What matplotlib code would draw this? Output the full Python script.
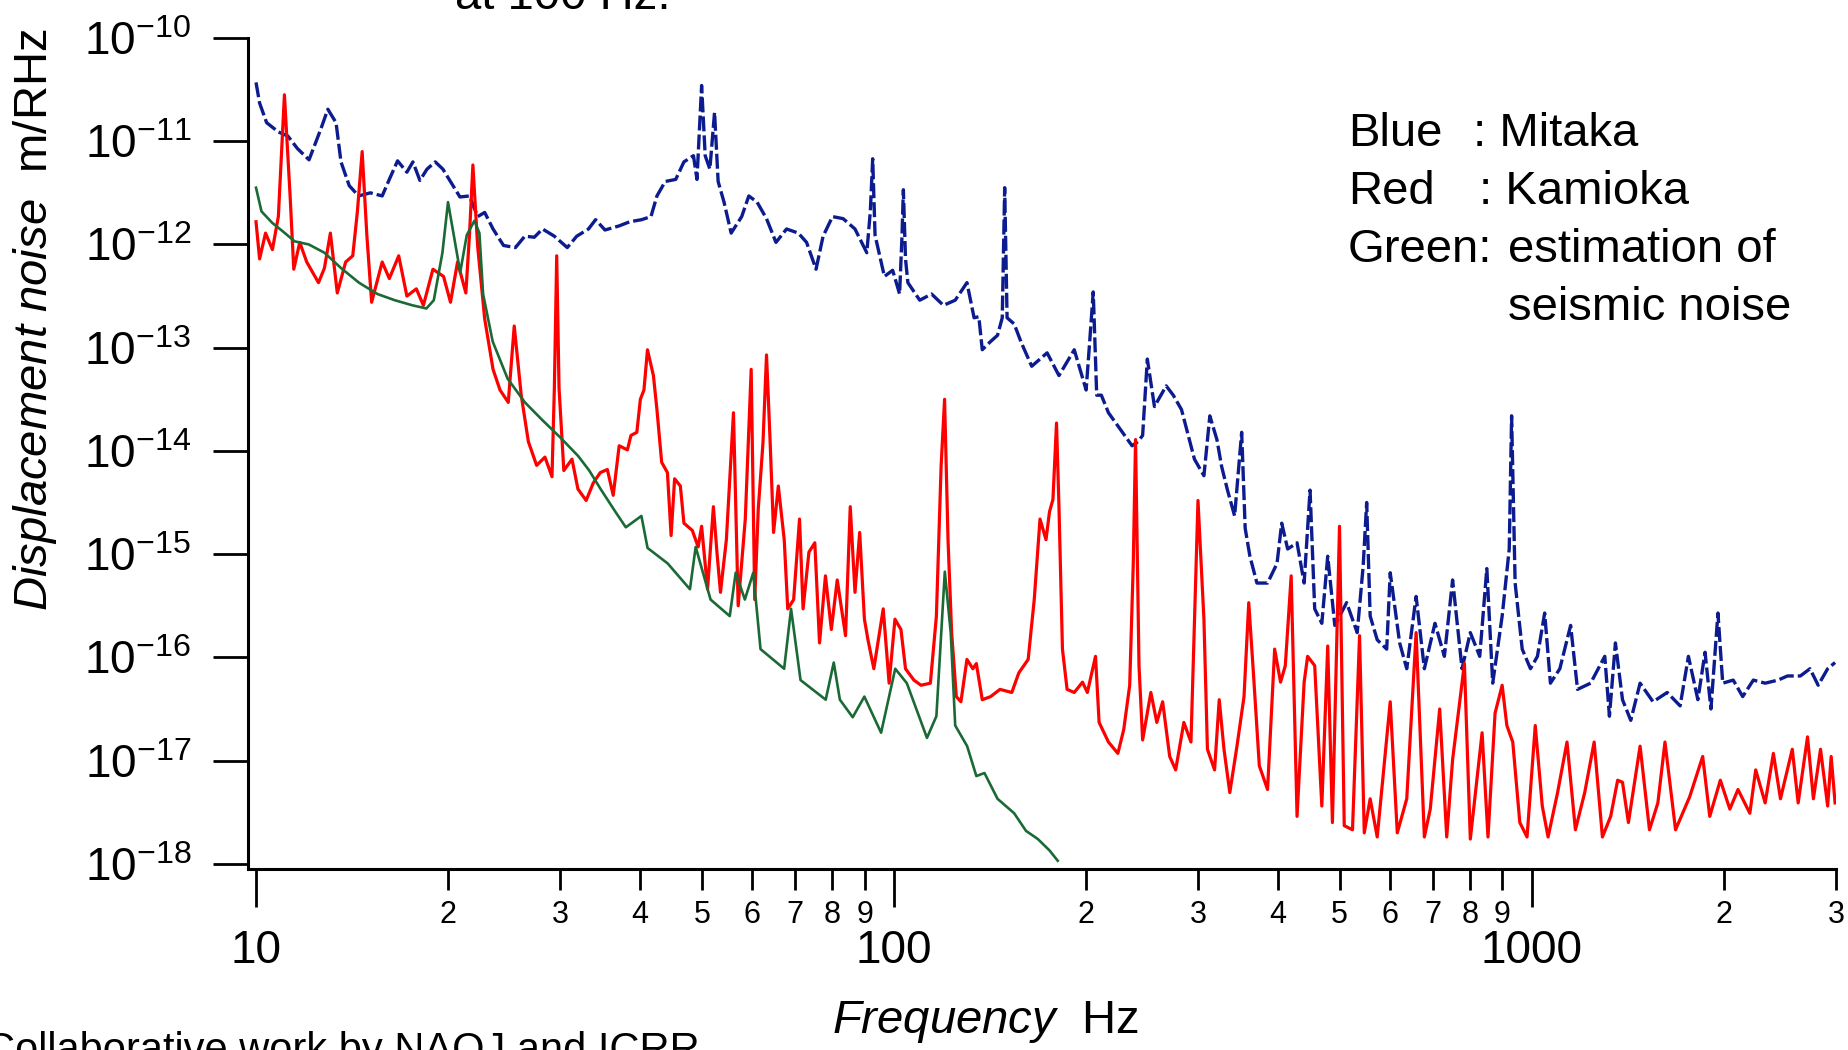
import numpy as np
import matplotlib
matplotlib.use("Agg")
import matplotlib.pyplot as plt
from matplotlib import font_manager
from matplotlib.ticker import FixedLocator, FuncFormatter, NullLocator

# ---- data (frequency in Hz, noise as log10 of m/rtHz) ----
# Mitaka (blue, dashed)
blue_freq = [10.0, 10.13, 10.39, 10.84, 11.22, 11.61, 12.11, 12.64, 12.96, 13.35,
             13.59, 14.0, 14.48, 15.11, 15.77, 16.18, 16.67, 17.24, 17.62, 18.07,
             18.54, 19.10, 19.63, 20.18, 20.88, 21.61, 22.26, 22.83, 23.53, 24.44,
             25.51, 26.39, 27.31, 28.13, 29.36, 30.76, 31.83, 33.21, 34.07, 35.25,
             37.10, 38.54, 40.22, 41.61, 42.52, 43.81, 45.50, 46.87, 48.51, 49.13,
             49.96, 50.61, 51.47, 52.35, 53.03, 54.17, 55.58, 57.74, 59.24, 61.04,
             63.15, 65.34, 67.89, 70.84, 72.98, 75.51, 77.46, 80.14, 83.27, 86.91,
             90.70, 91.86, 92.65, 93.44, 96.65, 99.57, 102.1, 103.0, 103.5, 104.3,
             105.2, 109.8, 114.6, 119.6, 124.8, 130.2, 133.6, 135.9, 137.6, 141.8,
             145.4, 147.9, 149.2, 150.5, 154.4, 158.4, 164.5, 173.9, 181.5, 191.8,
             200.2, 202.8, 205.4, 208.0, 211.5, 217.0, 226.4, 236.3, 241.4, 245.5,
             249.7, 256.2, 267.3, 274.2, 282.5, 296.0, 306.3, 312.9, 321.0, 326.5,
             333.5, 342.2, 351.0, 355.5, 361.6, 370.9, 385.4, 398.8, 405.6, 414.4,
             428.7, 439.8, 449.3, 456.9, 468.8, 478.9, 491.3, 512.7, 532.7, 544.2,
             551.2, 558.2, 572.6, 592.5, 600.1, 620.9, 637.0, 658.9, 678.8, 705.3,
             729.7, 751.7, 777.7, 801.3, 829.0, 850.5, 868.8, 898.9, 922.2, 930.1,
             942.0, 966.4, 995.7, 1021, 1048, 1070, 1107, 1151, 1180, 1237,
             1302, 1324, 1353, 1388, 1430, 1479, 1550, 1631, 1709, 1761,
             1822, 1870, 1910, 1959, 1993, 2070, 2142, 2226, 2323, 2434,
             2518, 2638, 2731, 2813, 2911, 2990]
blue_log10 = [-10.43, -10.63, -10.82, -10.91, -10.95, -11.07, -11.18, -10.88, -10.69, -10.82,
              -11.20, -11.43, -11.53, -11.50, -11.53, -11.37, -11.19, -11.30, -11.20, -11.38,
              -11.27, -11.20, -11.27, -11.39, -11.54, -11.53, -11.73, -11.69, -11.85, -12.01,
              -12.03, -11.92, -11.93, -11.85, -11.92, -12.03, -11.92, -11.85, -11.76, -11.86,
              -11.82, -11.78, -11.76, -11.73, -11.53, -11.39, -11.37, -11.20, -11.14, -11.37,
              -10.46, -11.14, -11.27, -10.72, -11.39, -11.59, -11.89, -11.73, -11.53, -11.59,
              -11.75, -11.98, -11.85, -11.89, -11.98, -12.24, -11.92, -11.73, -11.75, -11.85,
              -12.08, -11.68, -11.17, -11.91, -12.31, -12.25, -12.48, -11.91, -11.47, -12.14,
              -12.37, -12.54, -12.48, -12.59, -12.54, -12.37, -12.71, -12.70, -13.02, -12.94,
              -12.88, -12.71, -11.45, -12.71, -12.77, -12.95, -13.18, -13.05, -13.27, -13.02,
              -13.41, -12.94, -12.46, -13.46, -13.46, -13.63, -13.79, -13.95, -13.91, -13.85,
              -13.11, -13.57, -13.37, -13.46, -13.60, -14.08, -14.24, -13.66, -13.89, -14.15,
              -14.38, -14.63, -13.82, -14.75, -15.02, -15.28, -15.28, -15.09, -14.70, -14.95,
              -14.89, -15.28, -14.38, -15.53, -15.67, -15.02, -15.69, -15.47, -15.76, -15.12,
              -14.50, -15.60, -15.83, -15.92, -15.18, -15.86, -16.11, -15.41, -16.11, -15.67,
              -15.99, -15.25, -16.11, -15.76, -15.99, -15.14, -16.25, -15.60, -14.95, -13.66,
              -15.28, -15.92, -16.11, -15.99, -15.57, -16.25, -16.11, -15.69, -16.31, -16.25,
              -15.99, -16.57, -15.86, -16.41, -16.61, -16.25, -16.43, -16.34, -16.47, -15.99,
              -16.41, -15.95, -16.50, -15.57, -16.25, -16.22, -16.38, -16.22, -16.25, -16.22,
              -16.18, -16.18, -16.11, -16.27, -16.11, -16.05]

# Kamioka (red)
red_freq = [10.0, 10.13, 10.35, 10.61, 10.84, 11.08, 11.31, 11.46, 11.71, 12.01,
            12.27, 12.53, 12.80, 13.08, 13.41, 13.82, 14.18, 14.42, 14.67, 14.92,
            15.18, 15.77, 16.18, 16.74, 17.24, 17.84, 18.30, 18.94, 19.68, 20.18,
            20.70, 21.33, 21.61, 21.88, 22.26, 22.83, 23.53, 24.13, 24.86, 25.40,
            26.05, 26.73, 27.54, 28.38, 29.11, 29.36, 29.61, 29.86, 30.38, 31.29,
            31.97, 32.93, 33.79,
            34.65, 35.55, 36.31, 37.10, 38.22, 38.71, 39.54, 40.05, 40.57, 41.09,
            41.98, 42.52, 43.25, 44.16, 44.75, 45.32, 46.27, 46.87, 48.31, 49.34,
            49.96, 51.04, 52.13, 52.80, 53.48, 54.63, 56.05, 57.01, 58.49, 59.75,
            60.52, 61.30, 62.35, 63.15, 63.96, 64.78, 65.90, 67.32, 68.18, 69.65,
            71.14, 72.06, 73.60, 75.18, 76.47, 78.12, 79.80, 81.52, 84.00, 85.44,
            86.91, 88.40, 89.92, 91.08, 93.03, 94.23, 96.24, 98.31, 100.4, 102.6,
            104.3, 107.5, 110.3, 114.1, 116.6, 118.6, 120.1, 121.6, 123.2, 125.3,
            127.4, 130.2, 133.0, 134.7, 137.6, 141.8, 146.7, 153.1, 157.0, 162.4,
            166.0, 169.5, 173.2, 175.4, 177.6, 179.9, 181.5, 183.8, 186.9, 191.8,
            197.6, 201.1, 207.1, 209.8, 217.0, 224.5, 229.3, 234.3, 237.3, 239.3,
            242.3, 245.5, 252.9, 258.4, 263.9, 270.7, 276.6, 284.9, 292.3,
            299.8, 306.3, 310.2, 318.3, 323.7, 329.3, 336.3, 345.1, 354.0, 360.1,
            366.2, 374.1, 385.4, 395.4, 403.9, 410.9, 419.7, 428.7, 439.8, 445.4,
            456.9, 468.8, 478.9, 487.1, 499.7, 508.3, 523.7, 537.2, 546.4, 558.2,
            572.6, 600.1, 615.6, 637.0, 658.9, 678.8, 693.4, 717.4, 735.9, 751.7,
            784.4, 801.3, 836.1, 854.1, 876.2, 898.9, 914.3, 934.0, 958.1, 983.4,
            1013, 1039, 1061, 1098, 1136, 1171, 1211, 1253, 1291, 1330,
            1364, 1388, 1418, 1479, 1530, 1577, 1618, 1681, 1769, 1854,
            1902, 1976, 2045, 2106, 2198, 2245, 2323, 2393, 2455, 2562,
            2617, 2707, 2765, 2837, 2911, 2948, 2990]
red_log10 = [-11.78, -12.14, -11.89, -12.05, -11.73, -10.55, -11.53, -12.24, -11.98, -12.17,
             -12.27, -12.37, -12.23, -11.89, -12.47, -12.17, -12.11, -11.68, -11.10, -11.91,
             -12.56, -12.17, -12.33, -12.11, -12.50, -12.43, -12.59, -12.24, -12.31, -12.56,
             -12.17, -12.47, -11.91, -11.23, -12.02, -12.72, -13.21, -13.41, -13.53, -12.79,
             -13.46, -13.91, -14.14, -14.06, -14.25, -13.39, -12.11, -13.39, -14.19, -14.08,
             -14.37, -14.48, -14.31,
             -14.21, -14.18, -14.43, -13.95, -13.99, -13.85, -13.82, -13.50, -13.41, -13.02,
             -13.27, -13.60, -14.11, -14.21, -14.82, -14.27, -14.34, -14.70, -14.77, -14.93,
             -14.73, -15.34, -14.54, -14.98, -15.37, -14.86, -13.63, -15.50, -14.66, -13.21,
             -15.44, -14.56, -13.92, -13.07, -13.89, -14.79, -14.34, -14.86, -15.53, -15.44,
             -14.66, -15.53, -14.98, -14.89, -15.86, -15.21, -15.73, -15.25, -15.79, -14.54,
             -15.37, -14.79, -15.63, -15.83, -16.11, -15.89, -15.53, -16.25, -15.63, -15.73,
             -16.11, -16.22, -16.27, -16.25, -15.60, -14.15, -13.50, -14.86, -15.76, -16.38,
             -16.43, -16.02, -16.11, -16.06, -16.41, -16.38, -16.31, -16.34, -16.15, -16.02,
             -15.44, -14.66, -14.86, -14.59, -14.47, -13.73, -14.54, -15.92, -16.31, -16.34,
             -16.24, -16.34, -15.99, -16.63, -16.82, -16.93, -16.70, -16.27, -15.11, -13.89,
             -16.08, -16.80, -16.34, -16.63, -16.43, -16.96, -17.09, -16.63, -16.82,
             -14.48, -15.63, -16.89, -17.09, -16.41, -16.89, -17.31, -16.86, -16.38, -15.47,
             -16.15, -17.05, -17.28, -15.92, -16.24, -16.08, -15.21, -17.54, -16.24, -15.99,
             -16.08, -17.44, -15.89, -17.60, -14.73, -17.63, -17.67, -15.79, -17.70, -17.37,
             -17.74, -16.43, -17.70, -17.37, -15.76, -17.74, -17.47, -16.50, -17.74, -16.99,
             -16.06, -17.76, -16.73, -17.74, -16.54, -16.27, -16.66, -16.82, -17.60, -17.74,
             -16.66, -17.44, -17.74, -17.31, -16.82, -17.67, -17.31, -16.82, -17.74, -17.54,
             -17.19, -17.21, -17.60, -16.86, -17.67, -17.41, -16.82, -17.67, -17.35, -16.96,
             -17.54, -17.19, -17.47, -17.28, -17.51, -17.09, -17.41, -16.93, -17.37, -16.89,
             -17.41, -16.77, -17.37, -16.89, -17.44, -16.96, -17.41]

# estimation of seismic noise (green)
green_freq = [10.0, 10.2, 10.6, 11.0, 11.5, 12.1, 12.8, 13.6, 14.5, 15.5,
              16.5, 17.6, 18.5, 19.0, 19.6, 20.0, 20.5, 20.9, 21.4, 22.0,
              22.4, 22.7, 23.5, 24.8, 26.4, 28.1, 30.0, 32.0, 33.3, 34.7,
              36.6, 38.0, 40.2, 41.1, 44.2, 47.9, 48.9, 51.6, 55.3, 56.5,
              58.4, 60.2, 61.8, 67.3, 69.0, 71.4, 78.2, 80.5, 82.3, 86.2,
              89.9, 95.5, 100.5, 104.8, 112.7, 116.6, 120.2, 122.8, 124.8, 130.3,
              134.7, 138.7, 145.4, 154.4, 161.1, 168.2, 175.4, 180.7]
green_log10 = [-11.45, -11.68, -11.79, -11.87, -11.97, -12.00, -12.08, -12.23, -12.37, -12.48,
               -12.54, -12.59, -12.62, -12.54, -12.08, -11.59, -11.97, -12.27, -11.91, -11.77,
               -11.89, -12.48, -12.94, -13.30, -13.53, -13.70, -13.87, -14.05, -14.19, -14.37,
               -14.59, -14.74, -14.63, -14.94, -15.09, -15.34, -14.93, -15.44, -15.60, -15.18,
               -15.44, -15.18, -15.92, -16.11, -15.53, -16.22, -16.41, -16.05, -16.41, -16.58,
               -16.38, -16.73, -16.11, -16.25, -16.78, -16.57, -15.17, -15.76, -16.66, -16.86,
               -17.15, -17.12, -17.37, -17.51, -17.68, -17.76, -17.87, -17.97]

x_major = [10, 100, 1000]
x_minor = [20, 30, 40, 50, 60, 70, 80, 90,
           200, 300, 400, 500, 600, 700, 800, 900,
           2000, 3000]

legend_rows = [("Blue", ": Mitaka"), ("Red", ": Kamioka"), ("Green:", "estimation of")]


def has_font(name):
    try:
        font_manager.findfont(font_manager.FontProperties(family=name),
                              fallback_to_default=False)
        return True
    except ValueError:
        return False


tick_font = "Liberation Sans Narrow" if has_font("Liberation Sans Narrow") else "Liberation Sans"

plt.rcParams["font.family"] = ["Liberation Sans", "DejaVu Sans"]
plt.rcParams["mathtext.fontset"] = "custom"
plt.rcParams["mathtext.rm"] = tick_font
plt.rcParams["mathtext.it"] = "Liberation Sans:italic"

W, H = 1849, 1050
fig = plt.figure(figsize=(W / 100, H / 100), dpi=100)
ax = fig.add_axes([248 / W, 1 - 869 / H, (1836 - 248) / W, (869 - 38) / H])

ax.plot(blue_freq, 10.0 ** np.array(blue_log10), color="#0c1c8f", lw=2.4,
        dashes=(4.5, 1.2), zorder=2)
ax.plot(red_freq, 10.0 ** np.array(red_log10), color="#ff0000", lw=2.3, zorder=3)
ax.plot(green_freq, 10.0 ** np.array(green_log10), color="#1b6a36", lw=1.9, zorder=4)

ax.set_xscale("log")
ax.set_yscale("log")
ax.set_xlim(9.715, 3000)
ax.set_ylim(10 ** -18.05, 1e-10)

for s in ("top", "right"):
    ax.spines[s].set_visible(False)
for s in ("left", "bottom"):
    ax.spines[s].set_linewidth(2.2)

# x axis: big decade labels below small 2..9 labels
ax.xaxis.set_major_locator(FixedLocator(x_major))
ax.xaxis.set_minor_locator(FixedLocator(x_minor))
ax.xaxis.set_major_formatter(FuncFormatter(lambda v, p: f"{v:g}"))
ax.xaxis.set_minor_formatter(
    FuncFormatter(lambda v, p: str(int(round(v / 10 ** np.floor(np.log10(v) + 1e-9))))))
ax.tick_params(axis="x", which="major", length=27, width=2, pad=16, labelsize=33)
ax.tick_params(axis="x", which="minor", length=15, width=2, pad=7, labelsize=22)
for lab in ax.get_xticklabels(which="both"):
    lab.set_fontfamily(tick_font)

# y axis: decades 1e-18 .. 1e-10
ax.yaxis.set_major_locator(FixedLocator([10.0 ** e for e in range(-18, -9)]))
ax.yaxis.set_minor_locator(NullLocator())
ax.yaxis.set_major_formatter(
    FuncFormatter(lambda v, p: r"$\mathrm{10^{%d}}$" % round(np.log10(v))))
ax.tick_params(axis="y", which="major", length=25, width=2, pad=16, labelsize=33)

ax.set_xlabel(r"$\mathit{Frequency}$  Hz", fontsize=34, va="baseline")
ax.xaxis.set_label_coords((985 - 248) / (1836 - 248), (869 - 1033) / (869 - 38))
ax.set_ylabel(r"$\mathit{Displacement\ noise}$  m/RHz", fontsize=34, va="center")
ax.yaxis.set_label_coords((35 - 248) / (1836 - 248), (869 - 320) / (869 - 38))

# annotation text in the corner
for i, (name, desc) in enumerate(legend_rows):
    y = 1 - (134 + 58 * i) / H
    fig.text(1348 / W, y, name, fontsize=34, va="center")
    x_desc = [1473, 1479, 1508][i]
    fig.text(x_desc / W, y, desc, fontsize=34, va="center")
fig.text(1508 / W, 1 - (134 + 58 * 3) / H, "seismic noise", fontsize=34, va="center")

# texts cut by the slide edges, as in the original
fig.text(455 / W, 1 - 9 / H, "at 100 Hz.", fontsize=34, va="baseline")
fig.text(-15 / W, 1 - 1031 / H, "Collaborative work by NAOJ and ICRR",
         fontsize=30, va="top")

fig.savefig("out.png", dpi=100)
